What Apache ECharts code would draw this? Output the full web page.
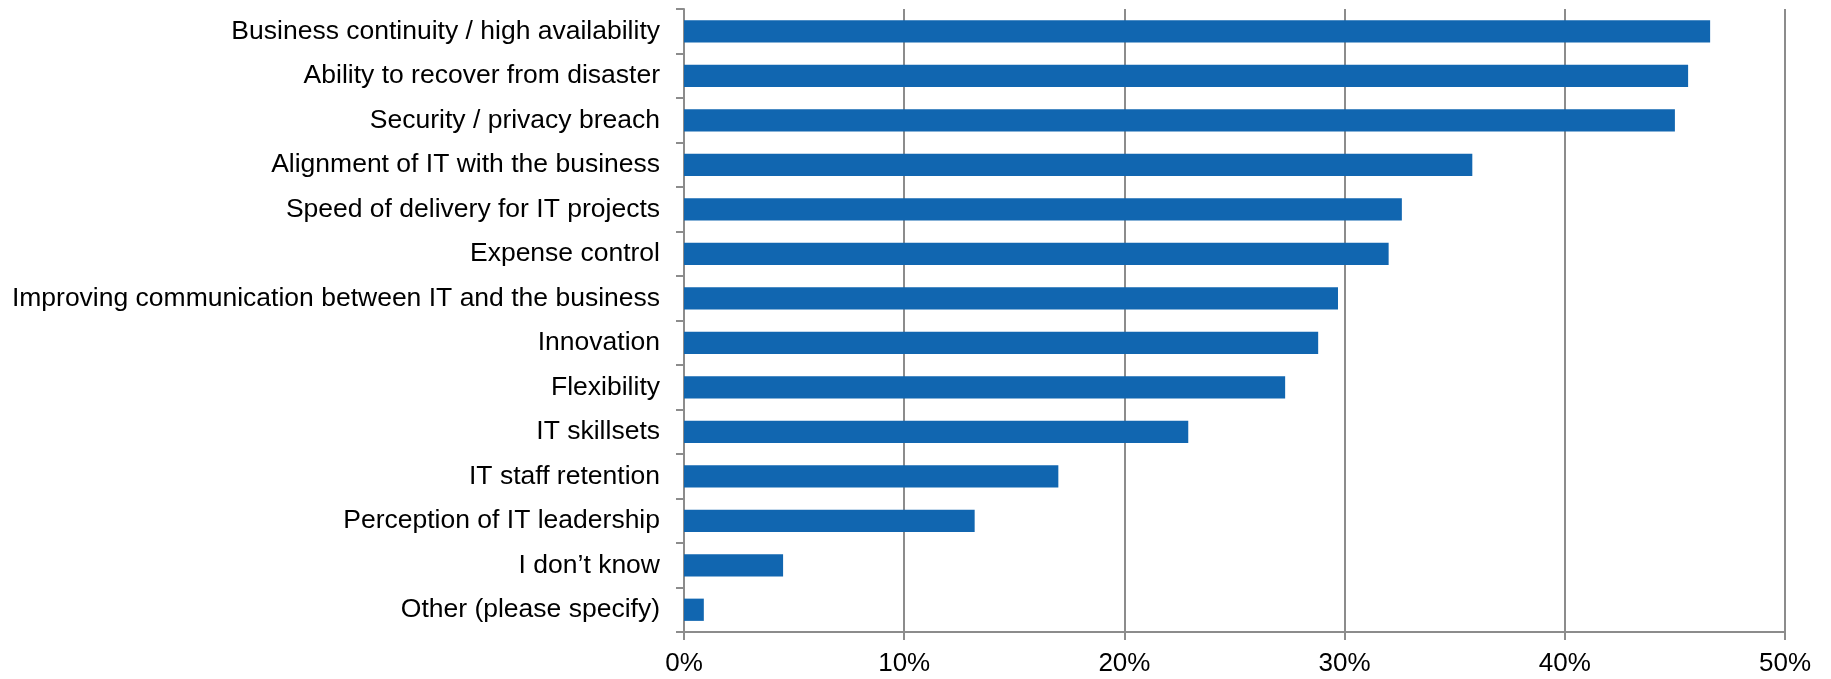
<!DOCTYPE html>
<html>
<head>
<meta charset="utf-8">
<script src="https://cdn.jsdelivr.net/npm/echarts@6/dist/echarts.min.js"></script>
<style>
  html, body { margin: 0; padding: 0; background: #fff; }
  #chart { width: 1831px; height: 679px; }
</style>
</head>
<body>
<div id="chart"></div>
<script>
// Survey responses, listed top to bottom
const categories = [
  'Business continuity / high availability',
  'Ability to recover from disaster',
  'Security / privacy breach',
  'Alignment of IT with the business',
  'Speed of delivery for IT projects',
  'Expense control',
  'Improving communication between IT and the business',
  'Innovation',
  'Flexibility',
  'IT skillsets',
  'IT staff retention',
  'Perception of IT leadership',
  'I don\u2019t know',
  'Other (please specify)'
];
// Share of respondents, in percent
const values = [46.6, 45.6, 45.0, 35.8, 32.6, 32.0, 29.7, 28.8, 27.3, 22.9, 17.0, 13.2, 4.5, 0.9];
const axisMax = 50;
const axisStep = 10;

const chart = echarts.init(document.getElementById('chart'), null, { renderer: 'canvas' });
chart.setOption({
  animation: false,
  backgroundColor: '#ffffff',
  grid: { left: 684, right: 46, top: 9, bottom: 47, containLabel: false },
  xAxis: {
    type: 'value',
    min: 0,
    max: axisMax,
    interval: axisStep,
    axisLine: { show: true, lineStyle: { color: '#8c8c8c', width: 2 } },
    axisTick: { show: true, length: 8, lineStyle: { color: '#8c8c8c', width: 2 } },
    splitLine: { show: true, lineStyle: { color: '#8c8c8c', width: 2 } },
    axisLabel: {
      formatter: '{value}%',
      color: '#000',
      fontFamily: 'Liberation Sans, Arial, sans-serif',
      fontSize: 26,
      margin: 19
    }
  },
  yAxis: {
    type: 'category',
    inverse: true,
    data: categories,
    axisLine: { show: true, lineStyle: { color: '#8c8c8c', width: 2 } },
    axisTick: { show: true, length: 8, lineStyle: { color: '#8c8c8c', width: 2 } },
    splitLine: { show: false },
    axisLabel: {
      color: '#000',
      fontFamily: 'Liberation Sans, Arial, sans-serif',
      fontSize: 26.5,
      margin: 24
    }
  },
  series: [{
    type: 'bar',
    data: values,
    barCategoryGap: '50%',
    itemStyle: { color: '#1166b0' }
  }]
});
</script>
</body>
</html>
